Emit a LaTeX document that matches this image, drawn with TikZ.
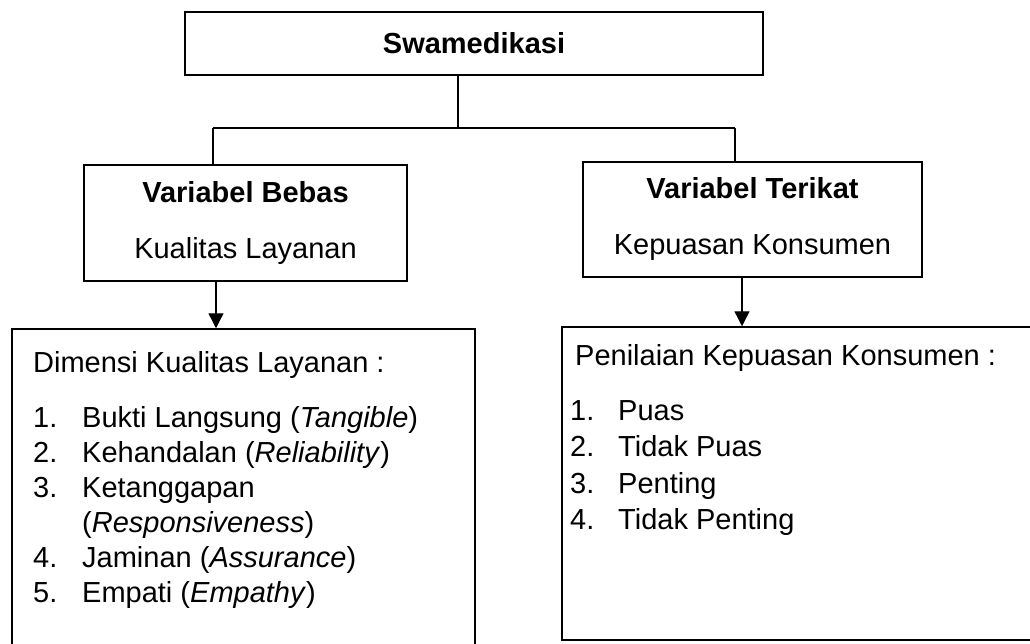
\documentclass[tikz,border=0pt]{standalone}
\usepackage{fontspec}
\setmainfont{Liberation Sans}
\usetikzlibrary{arrows.meta,positioning}

\tikzset{
  kotak/.style={draw, line width=1.5pt, inner sep=0pt},
  garis/.style={line width=1.4pt},
  panah/.style={line width=1.4pt, -{Triangle[length=15pt,width=15pt]}},
  teks/.style={font=\fontsize{29}{35}\selectfont},
}

\begin{document}
\begin{tikzpicture}[x=1pt,y=-1pt]
  \clip (0,0) rectangle (1030,644);
  \fill [white] (0,0) rectangle (1030,644);

  \node [kotak, teks, line width=2pt, minimum width=578pt, minimum height=63pt] (swa) at (474,43.5) {\textbf{Swamedikasi}};
  \node [kotak, teks, align=center, minimum width=323pt, minimum height=116pt] (bebas) at (245.5,223) {\textbf{Variabel Bebas}\\[21pt]Kualitas Layanan};
  \node [kotak, teks, align=center, minimum width=339pt, minimum height=115pt] (terikat) at (752.5,219.5) {\textbf{Variabel Terikat}\\[21pt]Kepuasan Konsumen};

  % kotak bawah
  \node [kotak, minimum width=463pt, minimum height=331pt] (dimensi) at (243.5,494.5) {};
  \node [kotak, minimum width=478pt, minimum height=313pt] (penilaian) at (801,483.5) {};

  \node [anchor=north west, align=left, inner sep=0pt, font=\fontsize{29}{35}\selectfont] (dimteks) at (33,351) {Dimensi Kualitas Layanan :\\[20pt]
    \makebox[49pt][l]{1.}Bukti Langsung (\textit{Tangible})\\
    \makebox[49pt][l]{2.}Kehandalan (\textit{Reliability})\\
    \makebox[49pt][l]{3.}Ketanggapan\\
    \hspace*{49pt}(\textit{Responsiveness})\\
    \makebox[49pt][l]{4.}Jaminan (\textit{Assurance})\\
    \makebox[49pt][l]{5.}Empati (\textit{Empathy})};
  \node [anchor=north west, align=left, inner sep=0pt, font=\fontsize{29}{36.5}\selectfont] (nilaiteks) at (575,344) {Penilaian Kepuasan Konsumen :\\[18.5pt]
    \hspace*{-5pt}\makebox[48pt][l]{1.}Puas\\
    \hspace*{-5pt}\makebox[48pt][l]{2.}Tidak Puas\\
    \hspace*{-5pt}\makebox[48pt][l]{3.}Penting\\
    \hspace*{-5pt}\makebox[48pt][l]{4.}Tidak Penting};

  % penghubung
  \coordinate (cabang) at (458,128);
  \coordinate (kiri) at (213,128);
  \coordinate (kanan) at (735,128);
  \draw [garis] (swa.south -| cabang) -- (cabang);
  \draw [garis] (kiri) -- (kanan);
  \draw [garis] (kiri) -- (kiri |- bebas.north);
  \draw [garis] (kanan) -- (kanan |- terikat.north);

  \coordinate (pkiri) at (216,0);
  \coordinate (pkanan) at (742,0);
  \draw [panah] (bebas.south -| pkiri) -- (dimensi.north -| pkiri);
  \draw [panah] (terikat.south -| pkanan) -- (penilaian.north -| pkanan);
\end{tikzpicture}
\end{document}
